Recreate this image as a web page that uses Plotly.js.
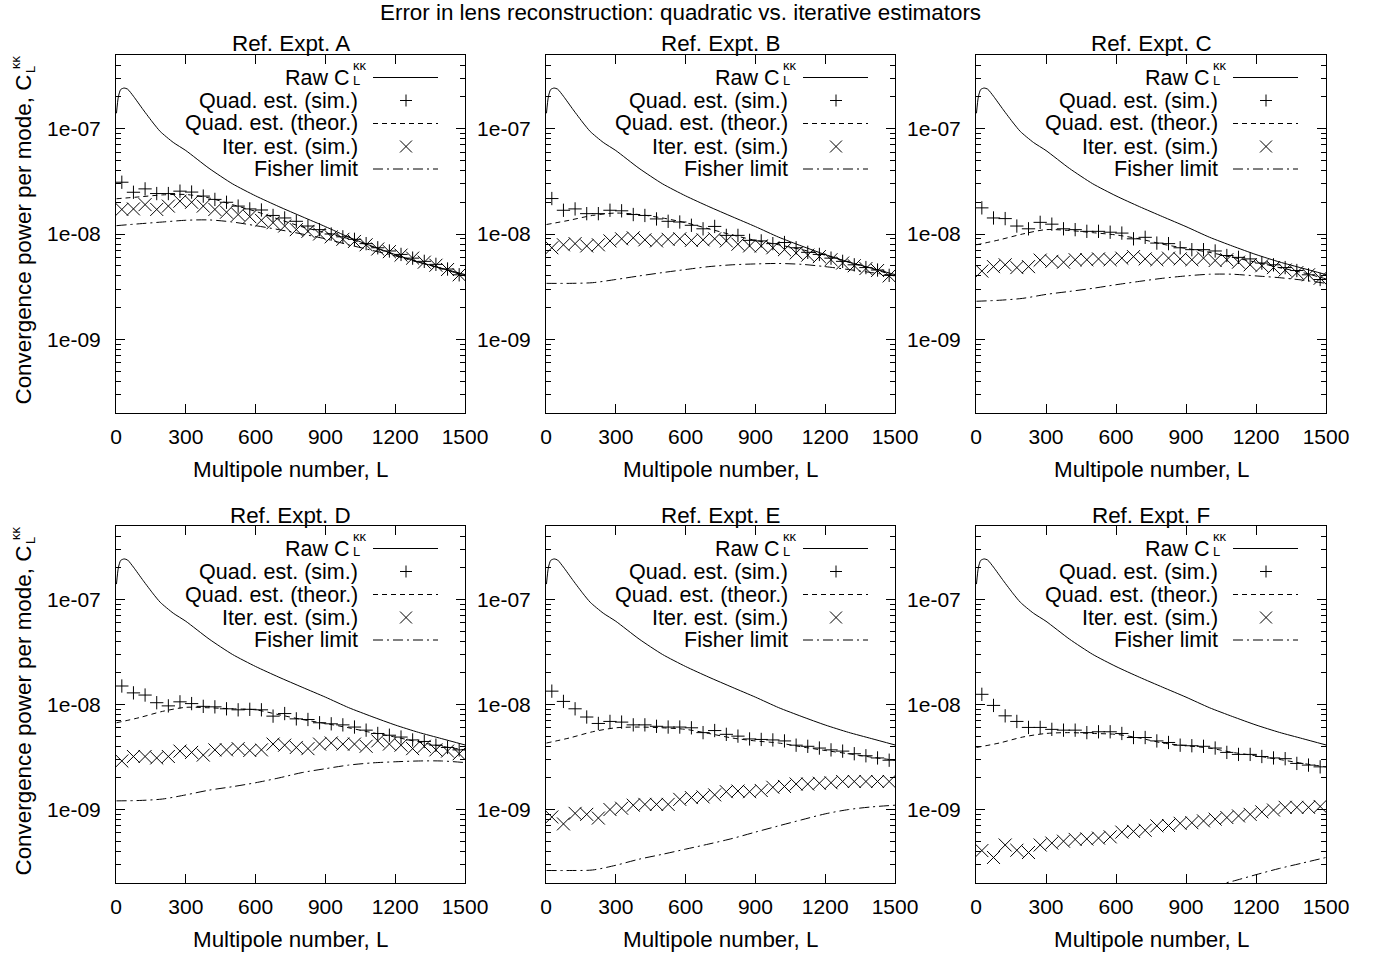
<!DOCTYPE html>
<html>
<head>
<meta charset="utf-8">
<script src="https://cdn.plot.ly/plotly-3.0.1.min.js"></script>
<style>html,body{margin:0;padding:0;background:#fff;}#chart{width:1396px;height:958px;}</style>
</head>
<body>
<div id="chart"></div>
<script>
// ---------------- data ----------------
const panelTitles = ["Ref. Expt. A","Ref. Expt. B","Ref. Expt. C","Ref. Expt. D","Ref. Expt. E","Ref. Expt. F"];
const xTickVals = [0,300,600,900,1200,1500];
const xTickText = ["0","300","600","900","1200","1500"];
const yTickVals = [1e-9,1e-8,1e-7];
const yTickText = ["1e-09","1e-08","1e-07"];
const yMinorVals = [3e-10,4e-10,5e-10,6e-10,7e-10,8e-10,9e-10,2e-9,3e-9,4e-9,5e-9,6e-9,7e-9,8e-9,9e-9,2e-8,3e-8,4e-8,5e-8,6e-8,7e-8,8e-8,9e-8,2e-7,3e-7,4e-7];

// raw convergence power spectrum (same in all panels)
const rawL   = [2,10,20,35,50,75,117,160,190,246,300,400,500,600,700,800,900,1000,1100,1200,1300,1400,1500];
const rawCkk = [1.4e-7,2.0e-7,2.35e-7,2.43e-7,2.37e-7,2.03e-7,1.51e-7,1.13e-7,9.4e-8,7.4e-8,6.2e-8,4.2e-8,3.0e-8,2.3e-8,1.82e-8,1.46e-8,1.175e-8,9.33e-9,7.67e-9,6.38e-9,5.43e-9,4.73e-9,4.12e-9];

// binned simulation points
const binL = [25,75,125,175,225,275,325,375,425,475,525,575,625,675,725,775,825,875,925,975,1025,1075,1125,1175,1225,1275,1325,1375,1425,1475];

const quadSimA = [3.1e-8,2.49e-8,2.68e-8,2.42e-8,2.42e-8,2.55e-8,2.5e-8,2.29e-8,2.13e-8,2.0e-8,1.84e-8,1.73e-8,1.69e-8,1.5e-8,1.42e-8,1.32e-8,1.19e-8,1.1e-8,1.0e-8,9.4e-9,8.9e-9,8.1e-9,7.4e-9,6.9e-9,6.4e-9,5.9e-9,5.5e-9,5.15e-9,4.65e-9,4.1e-9];
const iterSimA = [1.71e-8,1.73e-8,1.9e-8,1.71e-8,1.84e-8,2.05e-8,2.0e-8,1.84e-8,1.71e-8,1.61e-8,1.53e-8,1.46e-8,1.35e-8,1.28e-8,1.19e-8,1.1e-8,1.06e-8,1.0e-8,9.4e-9,8.9e-9,8.5e-9,7.9e-9,7.2e-9,6.8e-9,6.3e-9,5.9e-9,5.4e-9,5.05e-9,4.6e-9,4.1e-9];

const quadSimB = [2.17e-8,1.68e-8,1.73e-8,1.56e-8,1.56e-8,1.68e-8,1.66e-8,1.53e-8,1.5e-8,1.39e-8,1.32e-8,1.3e-8,1.21e-8,1.12e-8,1.18e-8,9.7e-9,9.7e-9,8.7e-9,8.6e-9,8.1e-9,8.3e-9,7.4e-9,6.7e-9,6.4e-9,5.9e-9,5.5e-9,5.1e-9,4.8e-9,4.55e-9,4.05e-9];
const iterSimB = [7.4e-9,7.9e-9,8.1e-9,7.7e-9,7.9e-9,8.6e-9,9.0e-9,9.2e-9,8.8e-9,8.6e-9,8.9e-9,9.0e-9,8.7e-9,8.8e-9,9.0e-9,8.6e-9,8.0e-9,7.7e-9,7.7e-9,7.4e-9,7.1e-9,6.6e-9,6.3e-9,6.1e-9,5.7e-9,5.3e-9,5.0e-9,4.7e-9,4.5e-9,4.0e-9];

const quadSimC = [1.77e-8,1.42e-8,1.4e-8,1.19e-8,1.12e-8,1.29e-8,1.24e-8,1.12e-8,1.1e-8,1.06e-8,1.06e-8,1.04e-8,1.02e-8,9.0e-9,9.3e-9,8.2e-9,8.1e-9,7.4e-9,7.1e-9,7.1e-9,6.9e-9,6.25e-9,6.0e-9,5.8e-9,5.3e-9,5.1e-9,4.8e-9,4.5e-9,4.1e-9,3.7e-9];
const iterSimC = [4.45e-9,4.9e-9,5.1e-9,4.8e-9,4.9e-9,5.65e-9,5.5e-9,5.4e-9,5.7e-9,5.7e-9,5.8e-9,5.7e-9,5.9e-9,6.1e-9,5.8e-9,5.7e-9,5.9e-9,5.8e-9,5.7e-9,5.9e-9,5.6e-9,5.7e-9,5.4e-9,5.1e-9,5.0e-9,4.8e-9,4.55e-9,4.3e-9,4.1e-9,3.8e-9];

const quadSimD = [1.5e-8,1.29e-8,1.23e-8,1.04e-8,9.7e-9,1.06e-8,1.02e-8,9.6e-9,9.5e-9,9.1e-9,8.9e-9,9.0e-9,8.9e-9,7.75e-9,8.2e-9,7.3e-9,7.2e-9,6.7e-9,6.55e-9,6.4e-9,6.1e-9,5.7e-9,5.3e-9,5.1e-9,4.9e-9,4.6e-9,4.45e-9,4.1e-9,3.9e-9,3.7e-9];
const iterSimD = [2.9e-9,3.2e-9,3.2e-9,3.1e-9,3.2e-9,3.6e-9,3.5e-9,3.3e-9,3.7e-9,3.7e-9,3.8e-9,3.65e-9,3.7e-9,4.2e-9,4.1e-9,3.9e-9,3.8e-9,4.2e-9,4.3e-9,4.2e-9,4.2e-9,4.0e-9,4.5e-9,4.2e-9,4.1e-9,3.8e-9,4.0e-9,3.7e-9,3.6e-9,3.4e-9];

const quadSimE = [1.34e-8,1.07e-8,9.1e-9,7.6e-9,6.6e-9,6.9e-9,6.8e-9,6.4e-9,6.4e-9,6.2e-9,6.1e-9,6.1e-9,6.0e-9,5.4e-9,5.65e-9,5.2e-9,5.0e-9,4.7e-9,4.65e-9,4.6e-9,4.5e-9,4.1e-9,4.0e-9,3.85e-9,3.7e-9,3.6e-9,3.4e-9,3.25e-9,3.1e-9,2.95e-9];
const iterSimE = [8.5e-10,7.3e-10,9.2e-10,9.0e-10,8.3e-10,1.0e-9,1.03e-9,1.1e-9,1.12e-9,1.12e-9,1.12e-9,1.25e-9,1.3e-9,1.32e-9,1.38e-9,1.48e-9,1.5e-9,1.48e-9,1.52e-9,1.63e-9,1.66e-9,1.75e-9,1.75e-9,1.78e-9,1.8e-9,1.85e-9,1.85e-9,1.85e-9,1.85e-9,1.85e-9];

const quadSimF = [1.25e-8,9.8e-9,7.8e-9,6.9e-9,6.05e-9,6.05e-9,5.8e-9,5.7e-9,5.7e-9,5.4e-9,5.5e-9,5.5e-9,5.3e-9,4.85e-9,4.85e-9,4.5e-9,4.35e-9,4.1e-9,4.05e-9,4.0e-9,3.85e-9,3.5e-9,3.35e-9,3.35e-9,3.2e-9,3.1e-9,3.05e-9,2.75e-9,2.65e-9,2.55e-9];
const iterSimF = [4.07e-10,3.5e-10,4.6e-10,4.1e-10,3.9e-10,4.6e-10,4.8e-10,5.0e-10,5.2e-10,5.25e-10,5.35e-10,5.5e-10,6.1e-10,6.2e-10,6.35e-10,7.0e-10,7.05e-10,7.4e-10,7.5e-10,7.8e-10,8.1e-10,8.4e-10,8.7e-10,9.0e-10,9.5e-10,9.9e-10,1.05e-9,1.05e-9,1.05e-9,1.07e-9];

// theory curves
const curveL = [2,100,200,300,400,500,600,700,800,900,1000,1100,1200,1300,1400,1500];
const quadTheorA = [2.16e-8,2.25e-8,2.35e-8,2.37e-8,2.2e-8,1.9e-8,1.64e-8,1.38e-8,1.17e-8,1.03e-8,9.0e-9,7.6e-9,6.3e-9,5.4e-9,4.7e-9,4.05e-9];
const quadTheorB = [1.23e-8,1.35e-8,1.5e-8,1.58e-8,1.53e-8,1.42e-8,1.28e-8,1.12e-8,9.8e-9,8.7e-9,7.9e-9,7.1e-9,6.3e-9,5.4e-9,4.7e-9,4.0e-9];
const quadTheorC = [7.9e-9,8.8e-9,1.0e-8,1.1e-8,1.08e-8,1.03e-8,9.8e-9,9.0e-9,8.0e-9,7.3e-9,6.7e-9,6.0e-9,5.4e-9,4.8e-9,4.3e-9,3.75e-9];
const quadTheorD = [6.7e-9,7.5e-9,8.6e-9,9.4e-9,9.3e-9,9.1e-9,8.9e-9,8.0e-9,7.2e-9,6.6e-9,6.0e-9,5.4e-9,4.9e-9,4.4e-9,4.0e-9,3.7e-9];
const quadTheorE = [4.3e-9,4.8e-9,5.5e-9,6.0e-9,6.1e-9,6.0e-9,5.8e-9,5.3e-9,4.8e-9,4.5e-9,4.3e-9,3.95e-9,3.65e-9,3.4e-9,3.15e-9,2.95e-9];
const quadTheorF = [3.9e-9,4.3e-9,4.9e-9,5.3e-9,5.4e-9,5.3e-9,5.2e-9,4.8e-9,4.3e-9,4.05e-9,3.85e-9,3.5e-9,3.25e-9,3.0e-9,2.75e-9,2.55e-9];

const fisherA = [1.2e-8,1.25e-8,1.3e-8,1.35e-8,1.36e-8,1.3e-8,1.2e-8,1.1e-8,1.0e-8,9.0e-9,7.9e-9,7.0e-9,6.2e-9,5.4e-9,4.7e-9,4.0e-9];
const fisherB = [3.4e-9,3.4e-9,3.45e-9,3.7e-9,4.0e-9,4.3e-9,4.6e-9,4.9e-9,5.1e-9,5.2e-9,5.25e-9,5.15e-9,4.9e-9,4.6e-9,4.3e-9,4.0e-9];
const fisherC = [2.3e-9,2.35e-9,2.45e-9,2.67e-9,2.85e-9,3.05e-9,3.3e-9,3.55e-9,3.8e-9,4.0e-9,4.15e-9,4.15e-9,4.0e-9,3.85e-9,3.65e-9,3.4e-9];
const fisherD = [1.21e-9,1.22e-9,1.26e-9,1.38e-9,1.53e-9,1.65e-9,1.8e-9,2.0e-9,2.25e-9,2.45e-9,2.65e-9,2.78e-9,2.85e-9,2.9e-9,2.9e-9,2.8e-9];
const fisherE = [2.63e-10,2.63e-10,2.66e-10,2.95e-10,3.37e-10,3.75e-10,4.2e-10,4.7e-10,5.3e-10,6.1e-10,7.0e-10,8.0e-10,9.1e-10,1.0e-9,1.06e-9,1.1e-9];
const fisherF = [8.5e-11,8.5e-11,8.7e-11,9.2e-11,1.0e-10,1.08e-10,1.17e-10,1.3e-10,1.45e-10,1.62e-10,1.85e-10,2.08e-10,2.4e-10,2.75e-10,3.1e-10,3.5e-10];

const seriesNames = ["Raw C", "Quad. est. (sim.)", "Quad. est. (theor.)", "Iter. est. (sim.)", "Fisher limit"];
const supText = "κκ";
const subText = "L";
const yTitleText = "Convergence power per mode, C";
const xTitleText = "Multipole number, L";
const mainTitleText = "Error in lens reconstruction: quadratic vs. iterative estimators";

const quadSims = [quadSimA,quadSimB,quadSimC,quadSimD,quadSimE,quadSimF];
const iterSims = [iterSimA,iterSimB,iterSimC,iterSimD,iterSimE,iterSimF];
const quadTheors = [quadTheorA,quadTheorB,quadTheorC,quadTheorD,quadTheorE,quadTheorF];
const fishers = [fisherA,fisherB,fisherC,fisherD,fisherE,fisherF];

// ---------------- layout geometry (pixels) ----------------
const W = 1396, H = 958;
const colPx = [[116,465],[546,895],[976,1326]];
const rowPx = [[55,413],[526,883]];
const FONT = "Liberation Sans, Arial, Helvetica, sans-serif";
const FS = 22.4;   // titles
const LFS = 21.5;  // legend
const TFS = 21;    // tick labels
const SFS = 13;    // super/subscripts
const X = p => p / W;
const Y = p => 1 - p / H;

const dashStyle = "5px,4px";
const dashDot = "10px,4px,2px,4px";

const traces = [];
const layout = {
  width: W, height: H,
  margin: {l:0, r:0, t:0, b:0},
  paper_bgcolor: "#ffffff",
  plot_bgcolor: "#ffffff",
  showlegend: false,
  font: {family: FONT, size: FS, color: "#000"},
  annotations: [],
  shapes: []
};

function txt(x, y, text, size, xanchor, extra) {
  return Object.assign({xref: "paper", yref: "paper", x: X(x), y: Y(y), xanchor: xanchor || "center", yanchor: "middle",
    text: text, showarrow: false, borderpad: 0, font: {family: FONT, size: size, color: "#000"}}, extra || {});
}

for (let i = 0; i < 6; i++) {
  const col = i % 3, row = Math.floor(i / 3);
  const sfx = i === 0 ? "" : String(i + 1);
  const xa = "x" + sfx, ya = "y" + sfx;
  const [l, r] = colPx[col];
  const [t, b] = rowPx[row];

  layout["xaxis" + sfx] = {
    domain: [X(l), X(r)], anchor: ya, range: [0, 1500],
    tickmode: "array", tickvals: xTickVals, ticktext: xTickText,
    ticks: "inside", ticklen: 9, tickwidth: 1, tickcolor: "#000",
    showline: true, linecolor: "#000", linewidth: 1, mirror: "ticks",
    showgrid: false, zeroline: false, ticklabelstandoff: 5,
    tickfont: {family: FONT, size: TFS, color: "#000"}, fixedrange: true
  };
  layout["yaxis" + sfx] = {
    domain: [Y(b), Y(t)], anchor: xa, type: "log",
    range: [Math.log10(2e-10), Math.log10(5e-7)],
    tickmode: "array", tickvals: yTickVals, ticktext: yTickText,
    ticks: "inside", ticklen: 9, tickwidth: 1, tickcolor: "#000",
    minor: {tickmode: "array", tickvals: yMinorVals, ticks: "inside", ticklen: 5, tickwidth: 1, tickcolor: "#000", showgrid: false},
    showline: true, linecolor: "#000", linewidth: 1, mirror: "ticks",
    showgrid: false, zeroline: false, ticklabelstandoff: 10,
    tickfont: {family: FONT, size: TFS, color: "#000"}, fixedrange: true
  };

  // traces
  traces.push({x: rawL, y: rawCkk, xaxis: xa, yaxis: ya, type: "scatter", mode: "lines",
    line: {color: "#000", width: 1, shape: "spline", smoothing: 0.6}, name: seriesNames[0], hoverinfo: "skip"});
  traces.push({x: binL, y: quadSims[i], xaxis: xa, yaxis: ya, type: "scatter", mode: "markers",
    marker: {symbol: "cross-thin-open", size: 9.5, color: "#000", line: {color: "#000", width: 1}}, name: seriesNames[1], hoverinfo: "skip"});
  traces.push({x: curveL, y: quadTheors[i], xaxis: xa, yaxis: ya, type: "scatter", mode: "lines",
    line: {color: "#000", width: 1, dash: dashStyle, shape: "spline", smoothing: 0.8}, name: seriesNames[2], hoverinfo: "skip"});
  traces.push({x: binL, y: iterSims[i], xaxis: xa, yaxis: ya, type: "scatter", mode: "markers",
    marker: {symbol: "x-thin-open", size: 13, color: "#000", line: {color: "#000", width: 1}}, name: seriesNames[3], hoverinfo: "skip"});
  traces.push({x: curveL, y: fishers[i], xaxis: xa, yaxis: ya, type: "scatter", mode: "lines",
    line: {color: "#000", width: 1, dash: dashDot, shape: "spline", smoothing: 0.8}, name: seriesNames[4], hoverinfo: "skip"});

  const ann = layout.annotations, shp = layout.shapes;
  ann.push(txt((l + r) / 2, t - 11, panelTitles[i], FS));
  ann.push(txt((l + r) / 2, b + 56, xTitleText, FS));

  // legend (gnuplot style: right-aligned text, sample on right)
  const txtR = l + 243, s0 = l + 257, s1 = l + 322, sc = l + 290;
  const rows = [t + 22.5, t + 45.5, t + 68.5, t + 91.5, t + 114];
  ann.push(txt(l + 235, rows[0], seriesNames[0], LFS, "right"));
  ann.push(txt(l + 236, t + 10.8, supText, SFS, "left"));
  ann.push(txt(l + 236, t + 25.5, subText, SFS, "left"));
  for (let k = 1; k < 5; k++) ann.push(txt(txtR, rows[k], seriesNames[k], LFS, "right"));

  const ln = (x0, y0, x1, y1, dash) => shp.push({type: "line", xref: "paper", yref: "paper",
    x0: X(x0), y0: Y(y0), x1: X(x1), y1: Y(y1), line: {color: "#000", width: 1, dash: dash || "solid"}});
  ln(s0, rows[0], s1, rows[0]);
  ln(sc - 6, rows[1], sc + 6, rows[1]); ln(sc, rows[1] - 6, sc, rows[1] + 6);
  ln(s0, rows[2], s1, rows[2], dashStyle);
  ln(sc - 6, rows[3] - 6, sc + 6, rows[3] + 6); ln(sc - 6, rows[3] + 6, sc + 6, rows[3] - 6);
  ln(s0, rows[4], s1, rows[4], dashDot);

  // y axis title (left column only)
  if (col === 0) {
    ann.push(txt(23, t + 184.5, yTitleText, FS, "center", {textangle: -90}));
    ann.push(txt(15, t + 7, supText, SFS, "center", {textangle: -90}));
    ann.push(txt(30.5, t + 14.5, subText, SFS, "center", {textangle: -90}));
  }
}

layout.annotations.push(txt(680, 12, mainTitleText, FS));

Plotly.newPlot("chart", traces, layout, {staticPlot: true, displayModeBar: false});
</script>
</body>
</html>
